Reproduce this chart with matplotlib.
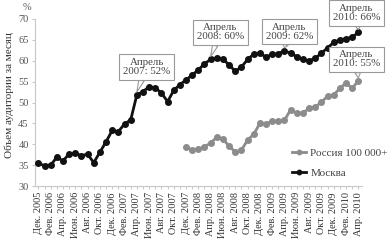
import matplotlib
matplotlib.use('Agg')
import matplotlib.pyplot as plt
import numpy as np

plt.rcParams['font.family'] = ['Liberation Serif', 'DejaVu Serif']

# ---- data ----
months = [
    "Дек. 2005", "Янв. 2006", "Фев. 2006", "Мар. 2006", "Апр. 2006", "Май 2006",
    "Июн. 2006", "Июл. 2006", "Авг. 2006", "Сен. 2006", "Окт. 2006", "Ноя. 2006",
    "Дек. 2006", "Янв. 2007", "Фев. 2007", "Мар. 2007", "Апр. 2007", "Май 2007",
    "Июн. 2007", "Июл. 2007", "Авг. 2007", "Сен. 2007", "Окт. 2007", "Ноя. 2007",
    "Дек. 2007", "Янв. 2008", "Фев. 2008", "Мар. 2008", "Апр. 2008", "Май 2008",
    "Июн. 2008", "Июл. 2008", "Авг. 2008", "Сен. 2008", "Окт. 2008", "Ноя. 2008",
    "Дек. 2008", "Янв. 2009", "Фев. 2009", "Мар. 2009", "Апр. 2009", "Май 2009",
    "Июн. 2009", "Июл. 2009", "Авг. 2009", "Сен. 2009", "Окт. 2009", "Ноя. 2009",
    "Дек. 2009", "Янв. 2010", "Фев. 2010", "Мар. 2010", "Апр. 2010",
]
moscow = [35.4, 34.9, 35.0, 36.9, 36.0, 37.7, 37.8, 37.3, 37.6, 35.6,
          38.1, 40.6, 43.3, 43.0, 44.9, 45.8, 51.8, 52.6, 53.8, 53.5,
          52.3, 50.2, 52.9, 54.3, 55.4, 56.6, 57.8, 59.3, 60.3, 60.6,
          60.4, 59.0, 57.5, 58.5, 60.3, 61.6, 61.8, 60.9, 61.5, 61.7,
          62.4, 61.8, 61.0, 60.3, 60.0, 60.6, 61.8, 63.1, 64.4, 65.0,
          65.3, 65.6, 66.8]
russia_months = months[24:]
russia = [39.3, 38.6, 38.8, 39.4, 40.3, 41.7, 41.3, 39.5, 38.2, 38.6,
          41.0, 42.4, 45.0, 44.8, 45.6, 45.5, 45.7, 48.3, 47.4, 47.5,
          48.6, 48.9, 50.1, 51.5, 51.8, 53.4, 54.7, 53.4, 55.2]
tick_labels = months[::2]
yticks = [30, 35, 40, 45, 50, 55, 60, 65, 70]
callouts = [
    ("Апрель\n2007: 52%", "Апр. 2007", "moscow", (17.6, 58.5)),
    ("Апрель\n2008: 60%", "Апр. 2008", "moscow", (29.6, 66.8)),
    ("Апрель\n2009: 62%", "Апр. 2009", "moscow", (40.8, 67.0)),
    ("Апрель\n2010: 66%", "Апр. 2010", "moscow", (51.7, 71.5)),
    ("Апрель\n2010: 55%", "Апр. 2010", "russia", (51.7, 60.3)),
]

# ---- figure ----
fig = plt.figure(figsize=(3.88, 2.42), dpi=100)
ax = fig.add_axes([35/388, 1-186/242, 327/388, 167/242])

x = np.arange(len(months))
xr = np.array([months.index(m) for m in russia_months])

l_r, = ax.plot(xr, russia, '-o', color='#8c8c8c', lw=2.0, ms=4.0, mec='#8c8c8c', zorder=3)
l_m, = ax.plot(x, moscow, '-o', color='#111111', lw=2.0, ms=4.0, mec='#111111', zorder=3)

ax.set_xlim(-0.55, 52.6)
ax.set_ylim(30, 70)
ax.set_yticks(yticks)
ax.set_yticklabels([str(v) for v in yticks], fontsize=7.5, color='#555555')
ax.set_xticks(x[::2])
ax.set_xticklabels(tick_labels, rotation=90, fontsize=7.4, color='#333333')
ax.set_xticks(x, minor=True)

for s in ['top', 'right']:
    ax.spines[s].set_visible(False)
for s in ['left', 'bottom']:
    ax.spines[s].set_color('#c8c8c8')
    ax.spines[s].set_linewidth(0.8)
ax.tick_params(axis='both', which='both', color='#c8c8c8', length=2.5, width=0.8, pad=2)

series = {"moscow": moscow, "russia": russia}
xs = {"moscow": months, "russia": russia_months}
for text, m, key, (tx, ty) in callouts:
    px = months.index(m)
    py = series[key][xs[key].index(m)]
    ax.annotate(text, xy=(px, py + 0.7), xytext=(tx, ty), textcoords='data',
                ha='center', va='center', fontsize=7.8, color='#444444',
                annotation_clip=False, zorder=5, linespacing=1.0,
                bbox=dict(boxstyle='square,pad=0.35', fc='white', ec='#999999', lw=0.8),
                arrowprops=dict(arrowstyle='wedge,tail_width=0.5,shrink_factor=0.5',
                                fc='white', ec='#999999', lw=0.8,
                                shrinkA=0, shrinkB=0))

fig.text(27/388, 1-7/242, '%', fontsize=7.5, color='#555555', ha='center', va='center')
fig.text(9/388, 1-95/242, 'Объем аудитории за месяц', rotation=90, fontsize=8,
         color='#333333', ha='center', va='center')

leg = ax.legend([l_r, l_m], ['Россия 100 000+', 'Москва'], loc='upper left',
                bbox_to_anchor=(286/388, 1-143/242), bbox_transform=fig.transFigure,
                frameon=False, fontsize=8, handlelength=1.3, labelspacing=0.9,
                handletextpad=0.4, borderpad=0, markerscale=0.8)
for t in leg.get_texts():
    t.set_color('#444444')

fig.savefig('out.png', dpi=100)
